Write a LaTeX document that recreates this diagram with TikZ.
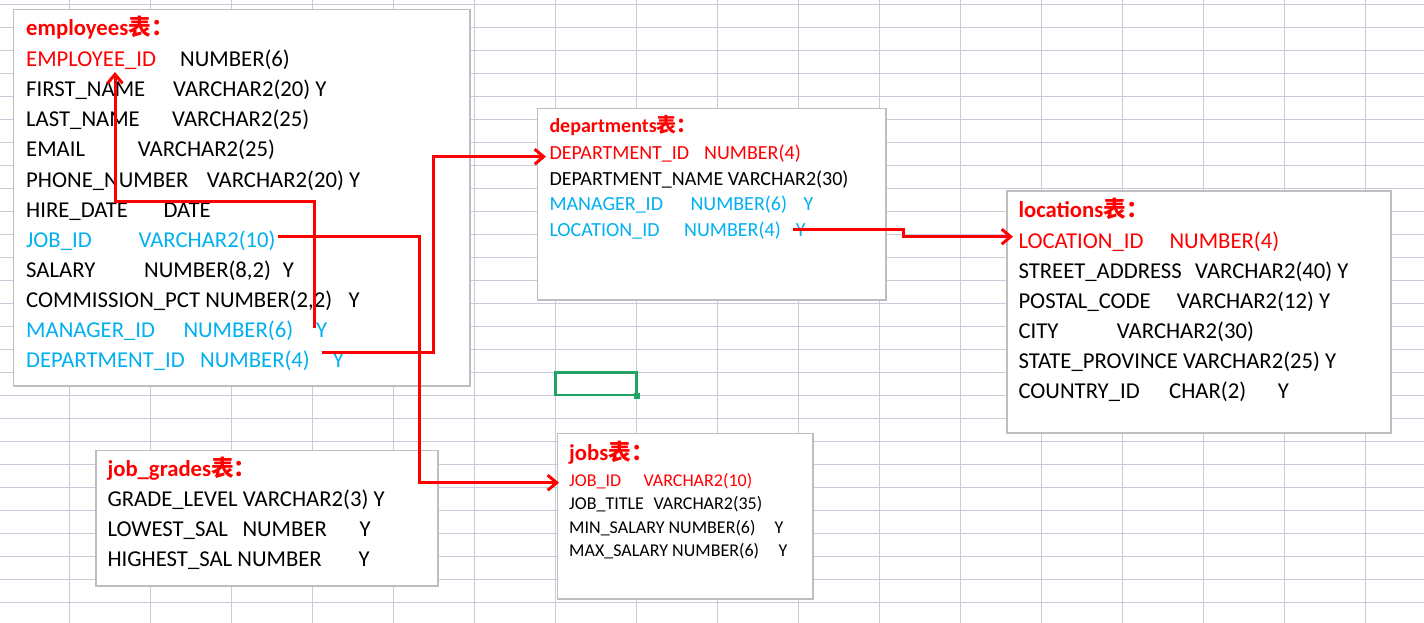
\documentclass[tikz,border=0pt]{standalone}
\usepackage{fontspec}
\setmainfont{Carlito}
\newfontfamily\cjk{Noto Sans CJK SC}
\usetikzlibrary{arrows.meta}
\definecolor{gridc}{RGB}{198,204,218}
\definecolor{boxc}{RGB}{190,190,190}
\definecolor{fkblue}{RGB}{0,176,240}
\definecolor{pkred}{RGB}{255,0,0}
\definecolor{selgreen}{RGB}{33,163,102}
\newcommand\mycell[5]{\node[#4] (#1) at (#2,#3) {#5};}
\tikzset{
  tbox/.style={draw=boxc, line width=1.3pt, fill=white},
  big/.style={anchor=base west, inner sep=0pt, font=\fontsize{22.7}{26}\selectfont},
  mid/.style={anchor=base west, inner sep=0pt, font=\fontsize{20}{24}\selectfont},
  sml/.style={anchor=base west, inner sep=0pt, font=\fontsize{18}{21}\selectfont},
  ttl/.style={anchor=base west, inner sep=0pt, text=pkred, font=\fontsize{22.7}{26}\selectfont\bfseries},
  ttlm/.style={anchor=base west, inner sep=0pt, text=pkred, font=\fontsize{20}{24}\selectfont\bfseries},
  pk/.style={text=pkred},
  fk/.style={text=fkblue},
  link/.style={draw=pkred, line width=3pt, -{Straight Barb[length=9pt,width=15pt]}}
}
\begin{document}
\begin{tikzpicture}[x=1pt,y=-1pt]
\useasboundingbox (0,0) rectangle (1424,623);
\fill[white] (0,0) rectangle (1424,623);
% spreadsheet grid
\foreach \k in {0,...,16} \draw[gridc, line width=1pt] ({69+81*\k},0) -- ({69+81*\k},623);
\foreach \k in {0,...,26} \draw[gridc, line width=1pt] (0,{4.3+23*\k}) -- (1424,{4.3+23*\k});
% selected cell
\draw[selgreen, line width=2.6pt] (555.5,372.5) rectangle (636.5,395);
\fill[selgreen] (634,392.5) rectangle (640,398.5);

% boxes
\draw[tbox] (13.5,9.5) rectangle (470,386);
\draw[tbox] (537.5,108.5) rectangle (886,300);
\draw[tbox] (1007,191) rectangle (1391,433);
\draw[tbox] (557.5,433.5) rectangle (813,599);
\draw[tbox] (96,450.5) rectangle (438,586);

% employees
\mycell{et}{26}{36}{ttl}{employees{\cjk 表：}}
\mycell{e0a}{26}{67}{big,pk}{EMPLOYEE\_ID}
\mycell{e0b}{180}{67}{big}{NUMBER(6)}
\mycell{e1a}{26}{97}{big}{FIRST\_NAME}
\mycell{e1b}{173}{97}{big}{VARCHAR2(20) Y}
\mycell{e2a}{26}{127}{big}{LAST\_NAME}
\mycell{e2b}{172}{127}{big}{VARCHAR2(25)}
\mycell{e3a}{26}{157}{big}{EMAIL}
\mycell{e3b}{137.7}{157}{big}{VARCHAR2(25)}
\mycell{e4a}{26}{187}{big}{PHONE\_NUMBER}
\mycell{e4b}{206.7}{187}{big}{VARCHAR2(20) Y}
\mycell{e5a}{26}{217}{big}{HIRE\_DATE}
\mycell{e5b}{163.3}{217}{big}{DATE}
\mycell{e6a}{26}{247}{big,fk}{JOB\_ID}
\mycell{e6b}{138.3}{247}{big,fk}{VARCHAR2(10)}
\mycell{e7a}{26}{277}{big}{SALARY}
\mycell{e7b}{144}{277}{big}{NUMBER(8,2)}
\mycell{e7c}{282.7}{277}{big}{Y}
\mycell{e8a}{26}{307}{big}{COMMISSION\_PCT NUMBER(2,2)}
\mycell{e8c}{348.3}{307}{big}{Y}
\mycell{e9a}{26}{337}{big,fk}{MANAGER\_ID}
\mycell{e9b}{183.3}{337}{big,fk}{NUMBER(6)}
\mycell{e9c}{316}{337}{big,fk}{Y}
\mycell{e10a}{26}{367}{big,fk}{DEPARTMENT\_ID}
\mycell{e10b}{200}{367}{big,fk}{NUMBER(4)}
\mycell{e10c}{332.7}{367}{big,fk}{Y}

% departments
\mycell{dt}{549.3}{132.3}{ttlm}{departments{\cjk 表：}}
\mycell{d0a}{549.3}{159.3}{mid,pk}{DEPARTMENT\_ID}
\mycell{d0b}{704}{159.3}{mid,pk}{NUMBER(4)}
\mycell{d1a}{549.3}{185}{mid}{DEPARTMENT\_NAME VARCHAR2(30)}
\mycell{d2a}{549.3}{210.7}{mid,fk}{MANAGER\_ID}
\mycell{d2b}{690.3}{210.7}{mid,fk}{NUMBER(6)}
\mycell{d2c}{803.3}{210.7}{mid,fk}{Y}
\mycell{d3a}{549.3}{236.4}{mid,fk}{LOCATION\_ID}
\mycell{d3b}{684}{236.4}{mid,fk}{NUMBER(4)}
\mycell{d3c}{795.7}{236.4}{mid,fk}{Y}

% locations
\mycell{lt}{1018.3}{217.3}{ttl}{locations{\cjk 表：}}
\mycell{l0a}{1018.3}{248.3}{big,pk}{LOCATION\_ID}
\mycell{l0b}{1169.3}{248.3}{big,pk}{NUMBER(4)}
\mycell{l1a}{1018.3}{278.3}{big}{STREET\_ADDRESS}
\mycell{l1b}{1195}{278.3}{big}{VARCHAR2(40) Y}
\mycell{l2a}{1018.3}{308.3}{big}{POSTAL\_CODE}
\mycell{l2b}{1176.7}{308.3}{big}{VARCHAR2(12) Y}
\mycell{l3a}{1018.3}{338.3}{big}{CITY}
\mycell{l3b}{1116.7}{338.3}{big}{VARCHAR2(30)}
\mycell{l4a}{1018.3}{368.3}{big}{STATE\_PROVINCE VARCHAR2(25) Y}
\mycell{l5a}{1018.3}{398.3}{big}{COUNTRY\_ID}
\mycell{l5b}{1169}{398.3}{big}{CHAR(2)}
\mycell{l5c}{1277.7}{398.3}{big}{Y}

% jobs
\mycell{jt}{569}{460}{ttl}{jobs{\cjk 表：}}
\mycell{j0a}{569}{486}{sml,pk}{JOB\_ID}
\mycell{j0b}{643.3}{486}{sml,pk}{VARCHAR2(10)}
\mycell{j1a}{569}{509.5}{sml}{JOB\_TITLE}
\mycell{j1b}{653.3}{509.5}{sml}{VARCHAR2(35)}
\mycell{j2a}{569}{533}{sml}{MIN\_SALARY NUMBER(6)}
\mycell{j2c}{774.3}{533}{sml}{Y}
\mycell{j3a}{569}{556.7}{sml}{MAX\_SALARY NUMBER(6)}
\mycell{j3c}{778.3}{556.7}{sml}{Y}

% job_grades
\mycell{gt}{107.3}{476}{ttl}{job\_grades{\cjk 表：}}
\mycell{g0a}{107.3}{506.7}{big}{GRADE\_LEVEL VARCHAR2(3) Y}
\mycell{g1a}{107.3}{536.7}{big}{LOWEST\_SAL}
\mycell{g1b}{242.3}{536.7}{big}{NUMBER}
\mycell{g1c}{359.3}{536.7}{big}{Y}
\mycell{g2a}{107.3}{566.7}{big}{HIGHEST\_SAL NUMBER}
\mycell{g2c}{358.3}{566.7}{big}{Y}

% connector end points
\coordinate (mgrS) at (314,328);
\coordinate (empT) at (115,72);
\coordinate (depS) at (322,352.3);
\coordinate (depT) at (546,156.7);
\coordinate (jobS) at (278.3,236);
\coordinate (jobT) at (559,482.7);
\coordinate (locS) at (793.3,229.7);
\coordinate (locT) at (1013,236.7);

\draw[link] (mgrS) -- (mgrS |- 0,201) -- (115,201) -- (empT);
\draw[link] (depS) -- (433.3,352.3) -- (433.3,156.7) -- (depT);
\draw[link] (jobS) -- (419,236) -- (419,482.7) -- (jobT);
\draw[link] (locS) -- (903.3,229.7) -- (903.3,236.7) -- (locT);
\end{tikzpicture}
\end{document}
